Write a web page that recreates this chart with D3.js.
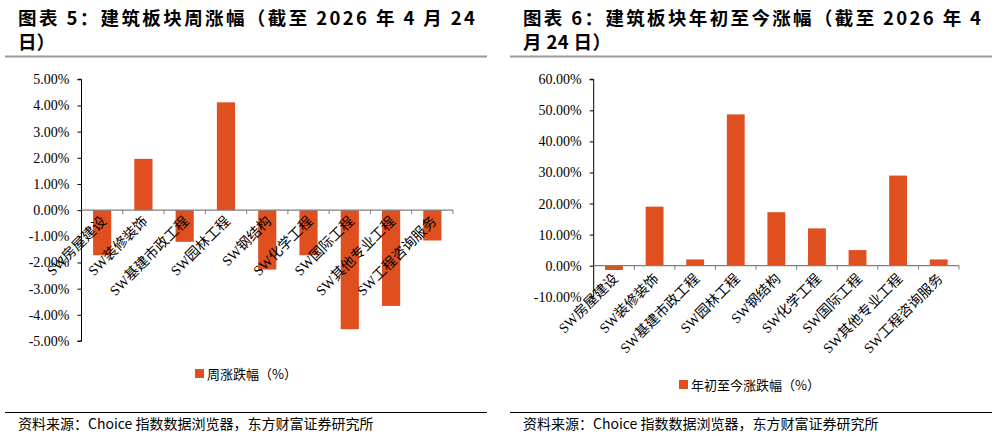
<!DOCTYPE html>
<html>
<head>
<meta charset="utf-8">
<script src="https://cdn.jsdelivr.net/npm/d3@7"></script>
<style>
  body { margin: 0; background: #fff; }
  svg { display: block; }
</style>
</head>
<body>
<svg id="chart" width="997" height="436"></svg>
<script>
// categories shared by both charts
const categories = ['SW房屋建设', 'SW装修装饰', 'SW基建市政工程', 'SW园林工程', 'SW钢结构',
  'SW化学工程', 'SW国际工程', 'SW其他专业工程', 'SW工程咨询服务'];

// weekly change (%)
const weeklyChange = [-1.72, 1.96, -1.21, 4.12, -2.27, -1.72, -4.55, -3.66, -1.16];
const weeklyTicks = [5, 4, 3, 2, 1, 0, -1, -2, -3, -4, -5];

// year-to-date change (%)
const ytdChange = [-1.4, 19.0, 2.0, 48.7, 17.2, 12.0, 5.0, 29.0, 2.0];
const ytdTicks = [60, 50, 40, 30, 20, 10, 0, -10];

const BAR = '#df4f1f';
const SANS = '"Noto Sans CJK SC", "Noto Sans", sans-serif';
const SERIF = '"Times New Roman", "Liberation Serif", "Noto Sans CJK SC", serif';

const svg = d3.select('#chart');

function drawPanel(opt) {
  const g = svg.append('g');

  // title, two lines as separate texts
  g.append('text')
    .attr('x', opt.titleX).attr('y', 25)
    .attr('textLength', opt.titleW).attr('lengthAdjust', 'spacing')
    .style('font-family', SANS)
    .attr('font-weight', 'bold')
    .attr('font-size', 18.5)
    .attr('fill', '#000')
    .text(opt.title1);
  const t2 = g.append('text')
    .attr('x', opt.titleX).attr('y', 49)
    .style('font-family', SANS)
    .attr('font-weight', 'bold')
    .attr('font-size', 18.5)
    .attr('fill', '#000')
    .text(opt.title2);
  if (opt.title2W) t2.attr('textLength', opt.title2W).attr('lengthAdjust', 'spacing');

  // grey rule under title
  g.append('line')
    .attr('x1', opt.ruleX1).attr('x2', opt.ruleX2)
    .attr('y1', 56.5).attr('y2', 56.5)
    .attr('stroke', '#9a9a9a').attr('stroke-width', 2);

  const x = d3.scaleBand()
    .domain(categories)
    .range([opt.x0, opt.x1])
    .paddingInner(0.56)
    .paddingOuter(0.28);

  const y = d3.scaleLinear()
    .domain(opt.domain)
    .range([opt.yBottom, opt.yTop]);

  const zeroY = y(0);

  // bars
  g.selectAll('.bar')
    .data(opt.values)
    .enter()
    .append('rect')
    .attr('x', (d, i) => x(categories[i]))
    .attr('y', d => d >= 0 ? y(d) : zeroY)
    .attr('width', x.bandwidth())
    .attr('height', d => Math.abs(y(d) - zeroY))
    .attr('fill', BAR);

  // y axis
  const yAxis = g.append('g')
    .attr('transform', `translate(${opt.x0},0)`)
    .call(d3.axisLeft(y)
      .tickValues(opt.ticks)
      .tickSize(4)
      .tickPadding(8)
      .tickFormat(d => d.toFixed(2) + '%'));
  yAxis.attr('font-family', null);
  yAxis.select('.domain').attr('stroke', '#000').attr('d', `M-4,${opt.yTop}H0V${opt.yBottom}H-4`);
  yAxis.selectAll('.tick line').attr('stroke', '#000');
  yAxis.selectAll('.tick text')
    .style('font-family', SERIF)
    .style('font-size', '14px')
    .attr('fill', '#000');

  // x axis line at zero with boundary ticks
  const bounds = d3.range(categories.length + 1).map(i => opt.x0 + i * (opt.x1 - opt.x0) / categories.length);
  g.append('line')
    .attr('x1', opt.x0).attr('x2', opt.x1)
    .attr('y1', zeroY).attr('y2', zeroY)
    .attr('stroke', '#7f7f7f').attr('stroke-width', 1.2);
  g.selectAll('.xtick')
    .data(bounds.slice(1))
    .enter()
    .append('line')
    .attr('x1', d => d).attr('x2', d => d)
    .attr('y1', zeroY).attr('y2', zeroY + 4)
    .attr('stroke', '#7f7f7f');

  // category labels, rotated
  g.selectAll('.xlabel')
    .data(categories)
    .enter()
    .append('text')
    .attr('transform', d => `translate(${x(d) + x.bandwidth() / 2 + 5},${zeroY + opt.labelDy}) rotate(-45)`)
    .attr('text-anchor', 'end')
    .style('font-family', SERIF)
    .style('font-size', '14px')
    .attr('fill', '#000')
    .text(d => d);

  // legend
  g.append('rect')
    .attr('x', opt.legendX).attr('y', opt.legendY - 10)
    .attr('width', 9).attr('height', 9)
    .attr('fill', BAR);
  g.append('text')
    .attr('x', opt.legendX + 12).attr('y', opt.legendY)
    .style('font-family', SANS)
    .attr('font-size', 13)
    .attr('fill', '#000')
    .text(opt.legend);

  // source rule + footnote
  g.append('line')
    .attr('x1', opt.ruleX1).attr('x2', opt.ruleX2)
    .attr('y1', 412.5).attr('y2', 412.5)
    .attr('stroke', '#000').attr('stroke-width', 1);
  g.append('text')
    .attr('x', opt.titleX).attr('y', 429)
    .style('font-family', SANS)
    .attr('font-size', 14)
    .attr('fill', '#000')
    .text('资料来源：Choice 指数数据浏览器，东方财富证券研究所');
}

drawPanel({
  title1: '图表 5：建筑板块周涨幅（截至 2026 年 4 月 24',
  title2: '日）',
  titleX: 18, titleW: 457,
  ruleX1: 5, ruleX2: 487,
  x0: 81.5, x1: 453,
  yTop: 79.3, yBottom: 341,
  domain: [-5, 5],
  ticks: weeklyTicks,
  values: weeklyChange,
  labelDy: 12,
  legend: '周涨跌幅（%）',
  legendX: 195, legendY: 379
});

drawPanel({
  title1: '图表 6：建筑板块年初至今涨幅（截至 2026 年 4',
  title2: '月 24 日）',
  title2W: 88,
  titleX: 523, titleW: 458,
  ruleX1: 510, ruleX2: 992,
  x0: 593.7, x1: 959,
  yTop: 79.3, yBottom: 296.7,
  domain: [-10, 60],
  ticks: ytdTicks,
  values: ytdChange,
  labelDy: 14,
  legend: '年初至今涨跌幅（%）',
  legendX: 679, legendY: 390
});
</script>
</body>
</html>
